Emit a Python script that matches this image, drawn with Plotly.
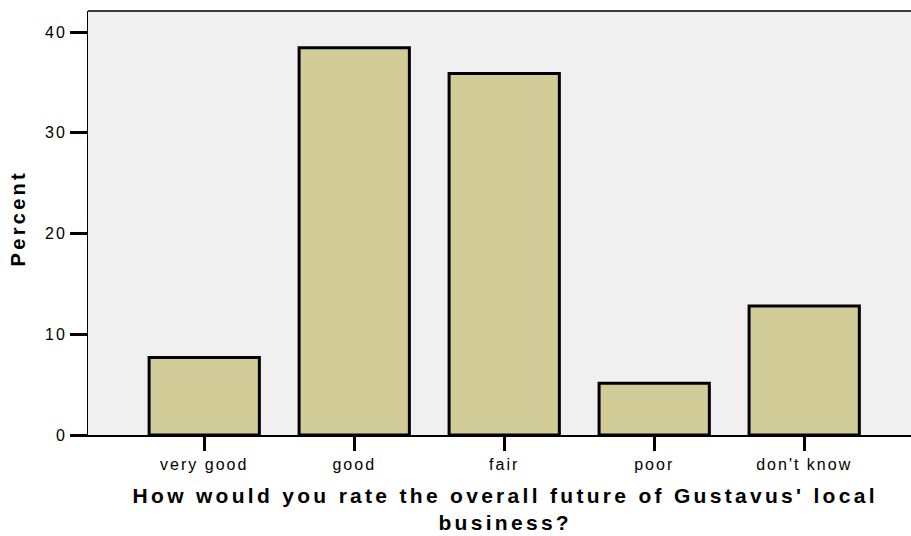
import plotly.graph_objects as go

# Survey responses (percent of respondents)
categories = ["very good", "good", "fair", "poor", "don't know"]
percents = [7.69, 38.46, 35.90, 5.13, 12.82]
y_ticks = [0, 10, 20, 30, 40]

x_title = "How would you rate the overall future of Gustavus' local<br>business?"
y_title = "Percent"

BAR_FILL = "#d2cd98"
PLOT_BG = "#f0f0f0"
FONT = "Liberation Sans, Arial, sans-serif"

fig = go.Figure(
    go.Bar(
        x=categories,
        y=percents,
        width=0.735,
        marker=dict(color=BAR_FILL, line=dict(color="black", width=3)),
        hoverinfo="x+y",
    )
)

fig.update_layout(
    width=911,
    height=536,
    margin=dict(l=88, r=0, t=11, b=101),
    paper_bgcolor="white",
    plot_bgcolor=PLOT_BG,
    showlegend=False,
    font=dict(family=FONT, color="black"),
)

fig.update_xaxes(
    type="category",
    range=[-0.775, 4.712],
    showline=True,
    linecolor="black",
    linewidth=2,
    ticks="outside",
    ticklen=14,
    tickwidth=3,
    tickcolor="black",
    tickfont=dict(size=16, family=FONT, color="black"),
    showgrid=False,
    zeroline=False,
)

fig.update_yaxes(
    range=[0, 42.1],
    tickvals=y_ticks,
    showline=True,
    linecolor="black",
    linewidth=1,
    ticks="outside",
    ticklen=17,
    tickwidth=3,
    tickcolor="black",
    tickfont=dict(size=16, family=FONT, color="black"),
    showgrid=False,
    zeroline=False,
)

# Top frame line of the plot area
fig.add_shape(
    type="line", xref="paper", yref="paper",
    x0=0, x1=1, y0=1, y1=1,
    line=dict(color="#3a3a3a", width=2),
)

# Axis titles
fig.add_annotation(
    text=x_title,
    xref="paper", yref="paper",
    x=0.507, y=-0.1745,
    xanchor="center", yanchor="middle",
    align="center",
    showarrow=False,
    font=dict(size=21, family=FONT, color="black", weight="bold"),
)
fig.add_annotation(
    text=y_title,
    xref="paper", yref="paper",
    x=-0.0851, y=0.512,
    xanchor="center", yanchor="middle",
    textangle=-90,
    showarrow=False,
    font=dict(size=20, family=FONT, color="black", weight="bold"),
)

# Letter spacing for the chart's text
spacing_css = """
var s = document.createElement('style');
s.textContent = '.xtick text, .ytick text { letter-spacing: 2px; } ' +
                '.annotation-text { letter-spacing: 3.3px; }';
document.head.appendChild(s);
"""

fig.write_html("out.html", post_script=spacing_css)
